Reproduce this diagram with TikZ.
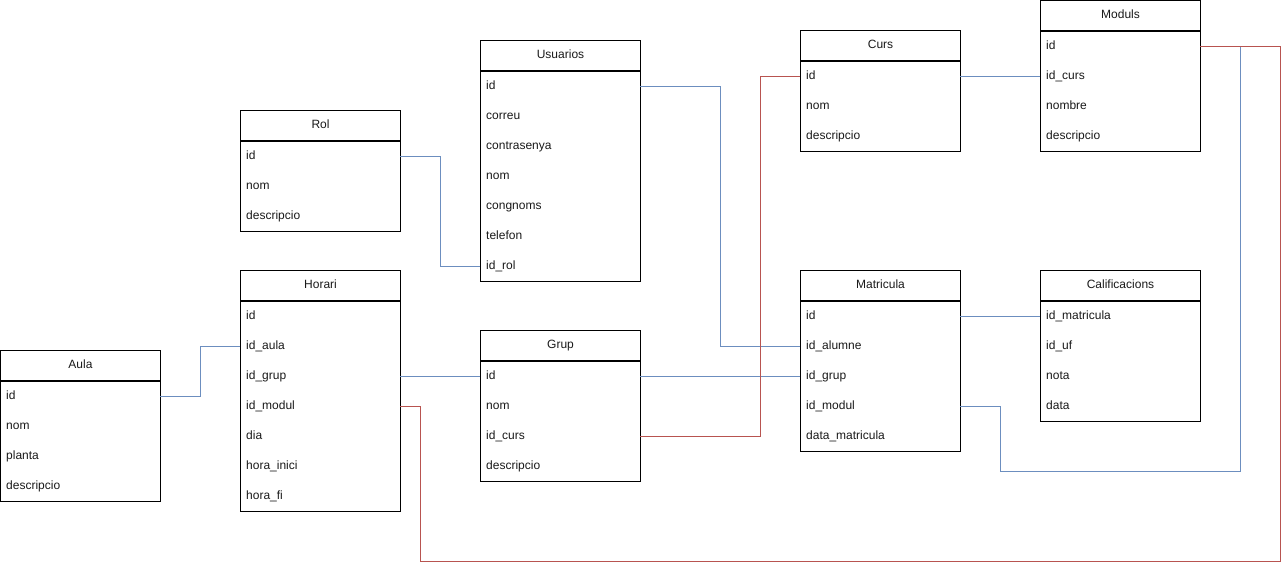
\documentclass[tikz,border=0pt]{standalone}
\usepackage{fontspec}
\setmainfont{Liberation Sans}
\usetikzlibrary{calc}

\definecolor{fkblue}{HTML}{6C8EBF}
\definecolor{fkred}{HTML}{B85450}
\definecolor{txt}{HTML}{1A1A1A}

\tikzset{
  tblhead/.style={draw=black, line width=1pt, minimum width=160pt, minimum height=30pt,
    inner sep=0pt, text height=9pt, text depth=3pt,
    font=\fontsize{12pt}{14pt}\selectfont, text=txt},
  tblrow/.style={minimum width=160pt, minimum height=30pt, inner xsep=6pt, inner ysep=0pt,
    text width=148pt, align=left, text height=9pt, text depth=3pt,
    font=\fontsize{12pt}{14pt}\selectfont, text=txt},
  tblbody/.style={draw=black, line width=1pt},
  fkb/.style={draw=fkblue, line width=1pt},
  fkr/.style={draw=fkred, line width=1pt},
}

% \entity{name}{x}{y}{title}{number of rows}{rows}
\newcommand\entity[6]{%
  \node[tblhead, anchor=north west] (#1) at (#2,#3) {#4};
  \foreach \r [count=\i] in {#6} {
    \node[tblrow, anchor=north west] (#1-\i) at ($(#1.south west)+(0,30*\i-30)$) {\r};
  }
  \draw[tblbody] (#1.south west) rectangle ++(160,30*#5);
}

\begin{document}
\begin{tikzpicture}[x=1pt, y=-1pt]
  \fill[white] (0,0) rectangle (1282,562);
  \useasboundingbox (0,0) rectangle (1282,562);

  \entity{aula}{0}{350}{Aula}{4}{id, nom, planta, descripcio}
  \entity{rol}{240}{110}{Rol}{3}{id, nom, descripcio}
  \entity{hor}{240}{270}{Horari}{7}{id, id\_aula, id\_grup, id\_modul, dia, hora\_inici, hora\_fi}
  \entity{usu}{480}{40}{Usuarios}{7}{id, correu, contrasenya, nom, congnoms, telefon, id\_rol}
  \entity{grup}{480}{330}{Grup}{4}{id, nom, id\_curs, descripcio}
  \entity{curs}{800}{30}{Curs}{3}{id, nom, descripcio}
  \entity{mat}{800}{270}{Matricula}{5}{id, id\_alumne, id\_grup, id\_modul, data\_matricula}
  \entity{mod}{1040}{0}{Moduls}{4}{id, id\_curs, nombre, descripcio}
  \entity{cal}{1040}{270}{Calificacions}{4}{id\_matricula, id\_uf, nota, data}

  % foreign keys
  \draw[fkb] (rol-1.east) -- ++(40,0) |- (usu-7.west);
  \draw[fkb] (usu-1.east) -- ++(80,0) |- (mat-2.west);
  \draw[fkb] (aula-1.east) -- ++(40,0) |- (hor-2.west);
  \draw[fkb] (hor-3.east) -- (grup-1.west);
  \draw[fkb] (grup-1.east) -- (mat-3.west);
  \draw[fkr] (grup-3.east) -- ++(120,0) |- (curs-1.west);
  \draw[fkb] (curs-1.east) -- (mod-2.west);
  \draw[fkb] (mat-1.east) -- (cal-1.west);
  \draw[fkb] (mat-4.east) -- ++(40,0) -- ++(0,65) -| ($(mod-1.east)+(40,0)$) -- (mod-1.east);
  \draw[fkr] (hor-4.east) -- ++(20,0) -- ++(0,155) -| ($(mod-1.east)+(80,0)$) -- (mod-1.east);
\end{tikzpicture}
\end{document}
